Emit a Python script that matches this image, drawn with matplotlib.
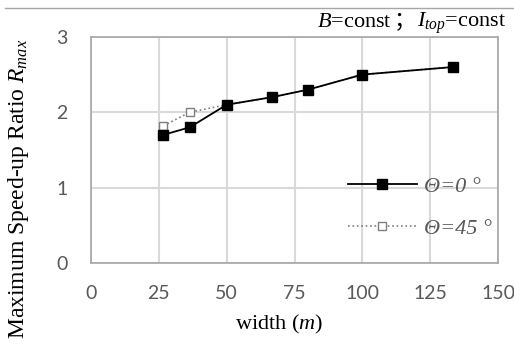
import matplotlib
matplotlib.use("Agg")
import matplotlib.pyplot as plt
from matplotlib.lines import Line2D
from matplotlib.offsetbox import TextArea, HPacker, AnchoredOffsetbox

plt.rcParams['mathtext.fontset'] = 'custom'
plt.rcParams['mathtext.rm'] = 'Liberation Serif'
plt.rcParams['mathtext.it'] = 'Liberation Serif:italic'

# width of the street canyon and max speed-up ratio
width = [26.7, 36.4, 50, 66.7, 80, 100, 133.3]
r_theta0 = [1.7, 1.8, 2.1, 2.2, 2.3, 2.5, 2.6]
r_theta45 = [1.82, 2.0, 2.1, 2.2, 2.3, 2.5, 2.6]
xticks = [0, 25, 50, 75, 100, 125, 150]
yticks = [0, 1, 2, 3]

tick_color = '#595959'
grid_color = '#d9d9d9'

fig = plt.figure(figsize=(5.14, 3.45), dpi=100)
ax = fig.add_axes([0.177, 0.238, 0.792, 0.655])

ax.plot(width, r_theta45, color='#7f7f7f', linestyle=':', linewidth=1.2,
        marker='s', markersize=6, markerfacecolor='white',
        markeredgecolor='#7f7f7f', markeredgewidth=1.0,
        label='Θ=45 °', zorder=3)
ax.plot(width, r_theta0, color='black', linestyle='-', linewidth=1.3,
        marker='s', markersize=7, markerfacecolor='black',
        markeredgecolor='black', label='Θ=0 °', zorder=4)

ax.set_xlim(0, 150)
ax.set_ylim(0, 3)
ax.set_xticks(xticks)
ax.set_yticks(yticks)
ax.grid(True, color=grid_color, linewidth=1.5)
ax.set_axisbelow(True)
ax.tick_params(length=0, labelsize=14, labelcolor=tick_color)
ax.tick_params(axis='x', pad=16)
ax.tick_params(axis='y', pad=17)
for lab in ax.get_xticklabels() + ax.get_yticklabels():
    lab.set_family('Lato')
for sp in ax.spines.values():
    sp.set_color('#a6a6a6')
    sp.set_linewidth(1.2)

ax.set_xlabel('width ($m$)', family='Liberation Serif', fontsize=16)
ax.xaxis.label.set_va('center')
ax.xaxis.set_label_coords(0.463, -0.274)
ax.set_ylabel('Maximum Speed-up Ratio $R_{max}$', family='Liberation Serif',
              fontsize=17)
ax.yaxis.label.set_va('center')
ax.yaxis.set_label_coords(-0.179, 0.33)

handles, labels = ax.get_legend_handles_labels()
leg = ax.legend(handles[::-1], labels[::-1], loc='center right',
                bbox_to_anchor=(1.035, 0.245), frameon=False,
                handlelength=3.1, labelspacing=0.95, handletextpad=0.35,
                prop={'family': 'Liberation Serif', 'style': 'italic', 'size': 16})
for t in leg.get_texts():
    t.set_color(tick_color)

# condition note above the plot
serif = {'family': 'Liberation Serif', 'size': 16}
parts = [TextArea('$B$=const', textprops=serif),
         TextArea('；', textprops={'family': ['Noto Sans CJK SC'], 'size': 16}),
         TextArea('$I_{top}$=const', textprops=serif)]
box = HPacker(children=parts, align='baseline', pad=0, sep=1)
anchored = AnchoredOffsetbox(loc='upper right', child=box, frameon=False,
                             bbox_to_anchor=(0.985, 0.975),
                             bbox_transform=fig.transFigure, borderpad=0, pad=0)
fig.add_artist(anchored)

fig.add_artist(Line2D([0.01, 1.0], [0.977, 0.977], transform=fig.transFigure,
                      color='#a6a6a6', linewidth=1.0))

fig.savefig('out.png', dpi=100)
